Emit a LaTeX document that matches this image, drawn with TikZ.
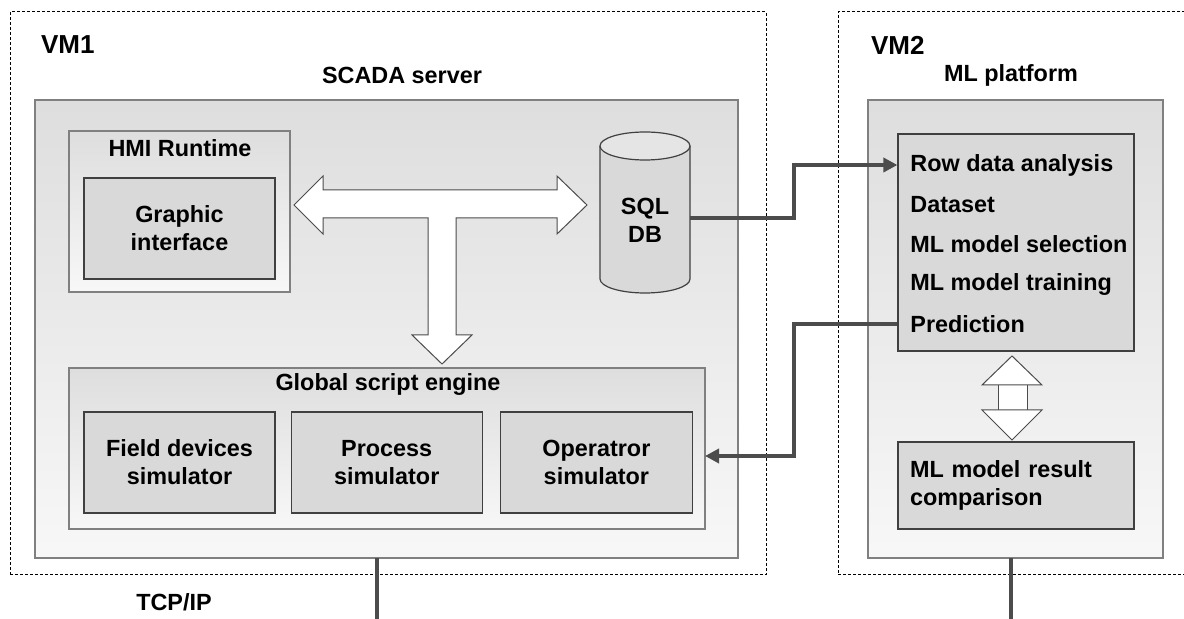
\documentclass[tikz,border=0pt]{standalone}
\usepackage{fontspec}
\setmainfont{Liberation Sans}
\usetikzlibrary{positioning,arrows.meta}

\begin{document}
\begin{tikzpicture}[x=0.5pt,y=-0.5pt,>={Triangle[length=7pt,width=7pt]},
    font=\bfseries\fontsize{11.7}{14}\selectfont,
    vm box/.style={draw,dash pattern=on 1.5pt off 1pt,line width=0.5pt,inner sep=0pt},
    shade box/.style={draw=black!50,line width=0.6pt,top color=black!13,bottom color=black!3,inner sep=0pt},
    unit box/.style={draw=black!75,line width=0.6pt,fill=black!15,align=center,inner sep=0pt},
    block arrow/.style={draw=black!70,fill=white,line width=0.5pt},
    link/.style={->,draw=black!70,line width=1.9pt},
    wire/.style={draw=black!70,line width=1.9pt}]

\useasboundingbox (0,0) rectangle (1184,619);

% virtual machines
\node[vm box,minimum width=378pt,minimum height=281.5pt] (vm1) at (388,293.5) {};
\node[vm box,minimum width=181pt,minimum height=281.5pt] (vm2) at (1019,293.5) {};
\node[anchor=west,font=\bfseries\fontsize{13}{15}\selectfont] (vm1lbl) at (34,45) {VM1};
\node[anchor=west,font=\bfseries\fontsize{13}{15}\selectfont] (vm2lbl) at (864,45) {VM2};
\node (scadalbl) at (402,75) {SCADA server};
\node (mllbl) at (1011,75) {ML platform};

% SCADA server
\node[shade box,minimum width=351.5pt,minimum height=229pt] (scada) at (386.5,329) {};
\node[shade box,minimum width=110.5pt,minimum height=80.5pt] (hmi) at (179.5,211.5) {};
\node (hmilbl) at (180,148) {HMI Runtime};
\node[unit box,minimum width=95.5pt,minimum height=50.5pt] (gui) at (179.5,228.5) {Graphic\\interface};

\node[shade box,minimum width=318pt,minimum height=80.5pt] (gse) at (387,448.5) {};
\node (gselbl) at (388,385) {Global script engine};
\node[unit box,minimum width=95.5pt,minimum height=50.5pt] (fds) at (179.5,462.5) {Field devices\\simulator};
\node[unit box,minimum width=95.5pt,minimum height=50.5pt,right=7.5pt of fds] (ps) {Process\\simulator};
\node[unit box,minimum width=96pt,minimum height=50.5pt,right=8.5pt of ps] (os) {Operatror\\simulator};

% database
\filldraw[draw=black!75,fill=black!15,line width=0.6pt] (600,146) -- (600,279)
    arc[start angle=180,end angle=0,x radius=45,y radius=14] -- (690,146);
\filldraw[draw=black!75,fill=black!10,line width=0.6pt] (645,146) ellipse[x radius=45,y radius=14];
\node[align=center] (db) at (645,220) {SQL\\DB};

% data bus
\draw[block arrow] (294,205) -- (323,176) -- (323,190) -- (557,190) -- (557,176) -- (587,205)
    -- (557,234) -- (557,218) -- (456,218) -- (456,335) -- (472,335) -- (442,364)
    -- (412,335) -- (428,335) -- (428,218) -- (323,218) -- (323,234) -- cycle;

% ML platform
\node[shade box,minimum width=147.5pt,minimum height=229pt] (ml) at (1015.5,329) {};
\node[unit box,minimum width=118pt,minimum height=108.5pt] (steps) at (1016,242.5) {};
\foreach \t [count=\i] in {Row data analysis,Dataset,ML model selection,ML model training,Prediction}
    \node[anchor=west,inner sep=0pt] (r\i) at (910,{165+39.8*(\i-1)}) {\t};
\node[unit box,align=left,text width=106pt,inner xsep=6pt,minimum width=118pt,minimum height=43.5pt] (cmp) at (1016,485.5) {ML model result\\comparison};

\draw[block arrow] (998,380) rectangle (1027,415);
\draw[block arrow] (1012,356) -- (1042,385) -- (982,385) -- cycle;
\draw[block arrow] (1012,440) -- (1042,410) -- (982,410) -- cycle;

% links
\coordinate (dbout) at (690,218);
\coordinate (bend) at (794,0);
\coordinate (osin) at (705,456);
\coordinate (base) at (0,625);
\draw[link] (dbout) -| (bend |- r1) -- (steps.west |- r1);
\draw[link] (steps.west |- r5) -| (bend |- osin) -- (osin);

% network
\coordinate (scadaout) at (377,558);
\coordinate (mlout) at (1011,558);
\draw[wire] (scadaout) -- (scadaout |- base);
\draw[wire] (mlout) -- (mlout |- base);
\node (tcp) at (174,602) {TCP/IP};
\end{tikzpicture}
\end{document}
